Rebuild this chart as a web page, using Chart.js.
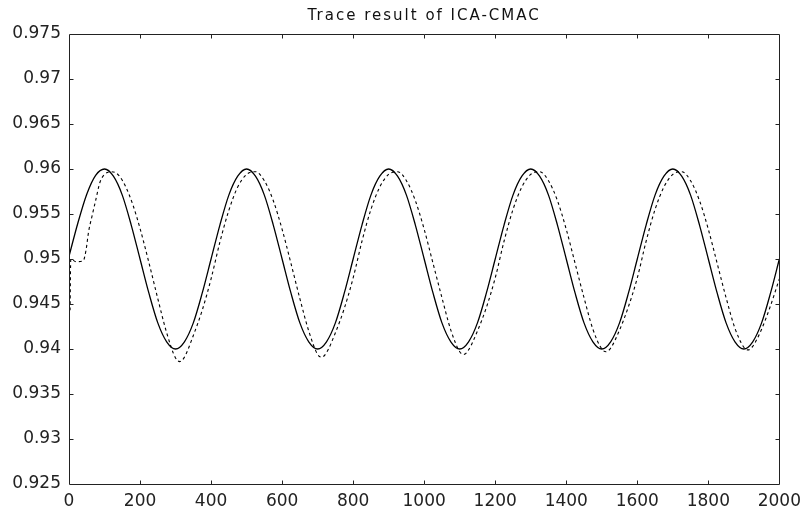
<!DOCTYPE html>
<html>
<head>
<meta charset="utf-8">
<script src="https://cdn.jsdelivr.net/npm/chart.js@4"></script>
<style>
  html, body { margin:0; padding:0; background:#fff; }
  #wrap { width:808px; height:513px; position:relative; }
</style>
</head>
<body>
<div id="wrap"><canvas id="traceChart" width="808" height="513"></canvas></div>
<script>
/* Trace result of ICA-CMAC — solid = reference, dashed = tracked output */

const TITLE = 'Trace result of ICA-CMAC';
const xTicks = [0,200,400,600,800,1000,1200,1400,1600,1800,2000];
const yTicks = [0.925,0.93,0.935,0.94,0.945,0.95,0.955,0.96,0.965,0.97,0.975];

// reference signal (solid)
const refX = [
  0,25,50,75,100,125,150,175,200,225,250,275,300,325,350,375,
  400,425,450,475,500,525,550,575,600,625,650,675,700,725,750,775,
  800,825,850,875,900,925,950,975,1000,1025,1050,1075,1100,1125,1150,1175,
  1200,1225,1250,1275,1300,1325,1350,1375,1400,1425,1450,1475,1500,1525,1550,1575,
  1600,1625,1650,1675,1700,1725,1750,1775,1800,1825,1850,1875,1900,1925,1950,1975,
  2000
];
const refY = [
  0.9503,0.9540,0.9572,0.9593,0.9600,0.9592,0.9571,0.9538,0.9500,0.9462,0.9429,0.9408,0.9400,0.9408,0.9429,0.9462,
  0.9500,0.9538,0.9571,0.9592,0.9600,0.9592,0.9571,0.9538,0.9500,0.9462,0.9429,0.9408,0.9400,0.9408,0.9429,0.9462,
  0.9500,0.9538,0.9571,0.9592,0.9600,0.9592,0.9571,0.9538,0.9500,0.9462,0.9429,0.9408,0.9400,0.9408,0.9429,0.9462,
  0.9500,0.9538,0.9571,0.9592,0.9600,0.9592,0.9571,0.9538,0.9500,0.9462,0.9429,0.9408,0.9400,0.9408,0.9429,0.9462,
  0.9500,0.9538,0.9571,0.9592,0.9600,0.9592,0.9571,0.9538,0.9500,0.9462,0.9429,0.9408,0.9400,0.9408,0.9429,0.9462,
  0.9500
];

// ICA-CMAC output (dashed)
const outX = [
  3,5,20,40,48,55,65,75,87,100,120,140,160,180,200,225,250,275,300,312,325,350,375,
  400,425,450,475,500,525,550,575,600,625,650,675,700,712,725,750,775,
  800,825,850,875,900,925,950,975,1000,1025,1050,1075,1100,1112,1125,1150,1175,
  1200,1225,1250,1275,1300,1325,1350,1375,1400,1425,1450,1475,1500,1512,1525,1550,1575,
  1600,1625,1650,1675,1700,1725,1750,1775,1800,1825,1850,1875,1900,1912,1925,1950,1975,2000
];
const outY = [
  0.9443,0.9500,0.9497,0.9498,0.9510,0.9530,0.9548,0.9565,0.9585,0.9594,0.9597,0.9593,0.9580,0.9560,0.9534,0.9496,0.9456,0.9418,0.9390,0.9386,0.9391,0.9415,0.9443,
  0.9478,0.9519,0.9554,0.9580,0.9594,0.9597,0.9587,0.9565,0.9533,0.9495,0.9456,0.9420,0.9394,0.9391,0.9396,0.9418,0.9445,
  0.9479,0.9520,0.9555,0.9580,0.9594,0.9597,0.9587,0.9565,0.9533,0.9495,0.9457,0.9421,0.9397,0.9394,0.9399,0.9420,0.9446,
  0.9479,0.9520,0.9555,0.9580,0.9594,0.9597,0.9587,0.9565,0.9533,0.9495,0.9457,0.9422,0.9400,0.9397,0.9401,0.9421,0.9447,
  0.9479,0.9520,0.9555,0.9580,0.9594,0.9597,0.9587,0.9565,0.9533,0.9495,0.9457,0.9423,0.9402,0.9399,0.9403,0.9422,0.9448,0.9478
];

const pts = (xs, ys) => xs.map((x, i) => ({ x, y: ys[i] }));

// matlab-ish box: frame + inward ticks on all four sides, title over the plot area
const matlabBox = {
  id: 'matlabBox',
  afterDraw(chart) {
    const { ctx, chartArea: a, scales } = chart;
    const L = Math.round(a.left) + 0.5, R = Math.round(a.right) + 0.5;
    const T = Math.round(a.top) + 0.5, B = Math.round(a.bottom) + 0.5;
    const tl = 4;
    ctx.save();
    ctx.strokeStyle = '#222';
    ctx.lineWidth = 1;
    ctx.beginPath();
    ctx.rect(L, T, R - L, B - T);
    scales.x.ticks.forEach(t => {
      const px = Math.round(scales.x.getPixelForValue(t.value)) + 0.5;
      if (px <= L + 1 || px >= R - 1) return;
      ctx.moveTo(px, B); ctx.lineTo(px, B - tl);
      ctx.moveTo(px, T); ctx.lineTo(px, T + tl);
    });
    scales.y.ticks.forEach(t => {
      const py = Math.round(scales.y.getPixelForValue(t.value)) + 0.5;
      if (py <= T + 1 || py >= B - 1) return;
      ctx.moveTo(L, py); ctx.lineTo(L + tl, py);
      ctx.moveTo(R, py); ctx.lineTo(R - tl, py);
    });
    ctx.stroke();

    ctx.fillStyle = '#111';
    ctx.font = '15px "DejaVu Sans"';
    ctx.letterSpacing = '2px';
    ctx.textAlign = 'center';
    ctx.textBaseline = 'alphabetic';
    ctx.fillText(TITLE, (a.left + a.right) / 2, 20);
    ctx.letterSpacing = '0px';
    ctx.restore();
  }
};

const tickFont = { family: 'DejaVu Sans', size: 17 };

new Chart(document.getElementById('traceChart'), {
  type: 'line',
  data: {
    datasets: [
      { data: pts(refX, refY), borderColor: '#000', borderWidth: 1.3, pointRadius: 0,
        cubicInterpolationMode: 'monotone', fill: false },
      { data: pts(outX, outY), borderColor: '#000', borderWidth: 1.1, borderDash: [3, 3], pointRadius: 0,
        cubicInterpolationMode: 'monotone', fill: false }
    ]
  },
  options: {
    responsive: false,
    animation: false,
    layout: { padding: { top: 34, right: 25, left: 0, bottom: 0 } },
    plugins: { legend: { display: false }, tooltip: { enabled: false }, title: { display: false } },
    scales: {
      x: {
        type: 'linear', min: 0, max: 2000,
        afterBuildTicks: s => { s.ticks = xTicks.map(v => ({ value: v })); },
        afterFit: s => { s.height = 29; },
        grid: { display: false, drawTicks: false },
        border: { display: false },
        ticks: { color: '#222', font: tickFont, padding: 7, maxRotation: 0, autoSkip: false,
                 callback: v => String(v) }
      },
      y: {
        type: 'linear', min: 0.925, max: 0.975,
        afterBuildTicks: s => { s.ticks = yTicks.map(v => ({ value: v })); },
        afterFit: s => { s.width = 69; },
        grid: { display: false, drawTicks: false },
        border: { display: false },
        ticks: { color: '#222', font: tickFont, padding: 8, autoSkip: false,
                 callback: v => String(+v.toFixed(3)) }
      }
    }
  },
  plugins: [matlabBox]
});
</script>
</body>
</html>
